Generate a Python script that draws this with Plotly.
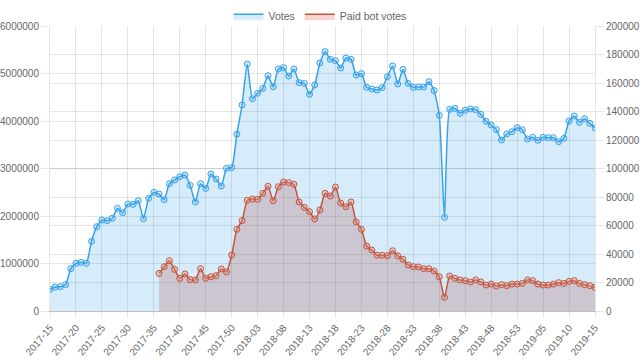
import plotly.graph_objects as go

# Week categories: 2017-15 .. 2017-52, 2018-01 .. 2018-53, 2019-01 .. 2019-15
weeks = ([f"2017-{w:02d}" for w in range(15, 53)] +
         [f"2018-{w:02d}" for w in range(1, 54)] +
         [f"2019-{w:02d}" for w in range(1, 16)])

votes = [457000, 505000, 512000, 554000, 891000, 1004000, 1025000, 1004000, 1467000, 1775000,
         1916000, 1902000, 1951000, 2162000, 2070000, 2253000, 2246000, 2322000, 1943000, 2372000,
         2498000, 2463000, 2343000, 2680000, 2758000, 2828000, 2863000, 2646000, 2295000, 2680000,
         2580000, 2884000, 2779000, 2632000, 3004000, 3018000, 3722000, 4337000, 5200000, 4470000,
         4583000, 4688000, 4955000, 4723000, 5095000, 5123000, 4947000, 5095000, 4807000, 4793000,
         4562000, 4758000, 5221000, 5460000, 5298000, 5270000, 5116000, 5326000, 5298000, 4968000,
         4996000, 4709000, 4674000, 4653000, 4702000, 4933000, 5158000, 4779000, 5088000, 4793000,
         4709000, 4716000, 4716000, 4828000, 4639000, 4119000, 1973000, 4246000, 4267000, 4162000,
         4225000, 4253000, 4239000, 4141000, 3994000, 3916000, 3817000, 3600000, 3726000, 3775000,
         3860000, 3817000, 3621000, 3656000, 3593000, 3656000, 3649000, 3649000, 3565000, 3635000,
         4000000, 4105000, 3972000, 4049000, 3951000, 3853000]

paid = [None] * 21 + [
    26400, 31100, 35300, 29200, 22900, 26000, 22000, 21800, 29700, 23000,
    24100, 24800, 29500, 27400, 39300, 57300, 63400, 77700, 78600, 78400,
    82600, 87500, 77400, 87200, 90500, 90100, 88900, 76500, 72700, 69700,
    64600, 70900, 82600, 80700, 87000, 75800, 73200, 76500, 62500, 57300,
    45600, 42800, 39100, 39100, 38800, 42300, 38700, 36300, 32300, 31100,
    30900, 29700, 29700, 28100, 24100, 9600, 24600, 22900, 21800, 21300,
    20400, 21800, 20400, 18200, 18900, 17500, 18500, 17800, 18900, 18900,
    19400, 21800, 21300, 18900, 18200, 18200, 18900, 19900, 19400, 20800,
    21300, 19400, 18500, 17800, 16600]

blue = "rgb(54,162,235)"
blue_fill = "rgba(54,162,235,0.2)"
red = "rgb(196,84,62)"
red_fill = "rgba(165,62,50,0.22)"
grid = "rgba(0,0,0,0.1)"
font_c = "#666"

fig = go.Figure()
fig.add_trace(go.Scatter(
    x=weeks, y=votes, name="Votes", mode="lines+markers", fill="tozeroy",
    fillcolor=blue_fill, line=dict(color=blue, width=1.5, shape="spline", smoothing=0.5),
    marker=dict(size=6, color="rgba(54,162,235,0.2)", line=dict(color=blue, width=1)),
    showlegend=False, yaxis="y"))
fig.add_trace(go.Scatter(
    x=weeks, y=paid, name="Paid bot votes", mode="lines+markers", fill="tozeroy",
    fillcolor=red_fill, line=dict(color=red, width=1.5, shape="spline", smoothing=0.5),
    marker=dict(size=6, color="rgba(230,140,120,0.3)", line=dict(color=red, width=1)),
    showlegend=False, yaxis="y2"))

# legend entries (box style)
fig.add_trace(go.Scatter(x=[None], y=[None], name="Votes", mode="lines", fill="toself",
                         fillcolor=blue_fill, line=dict(color=blue, width=1.5)))
fig.add_trace(go.Scatter(x=[None], y=[None], name="Paid bot votes", mode="lines", fill="toself",
                         fillcolor="rgba(230,120,95,0.3)", line=dict(color=red, width=1.5)))

tick_idx = list(range(0, len(weeks), 5))
fs = 10
fig.update_layout(
    width=640, height=361,
    margin=dict(l=50, r=45, t=26, b=50, autoexpand=False),
    paper_bgcolor="white", plot_bgcolor="white",
    font=dict(family="Liberation Sans, Arial, sans-serif", size=fs, color=font_c),
    legend=dict(orientation="h", x=0.5, xanchor="center", xref="container",
                y=0.995, yanchor="top", yref="container",
                font=dict(size=10.5, color=font_c), itemwidth=30, bgcolor="rgba(0,0,0,0)"),
    xaxis=dict(type="category", range=[0, len(weeks) - 1], tickmode="array",
               tickvals=[weeks[i] for i in tick_idx], ticktext=[weeks[i] for i in tick_idx],
               tickangle=-50, showgrid=True, gridcolor=grid, ticks="outside", ticklen=6,
               tickcolor=grid, showline=True, linecolor="rgba(0,0,0,0.25)", automargin=False,
               tickfont=dict(size=fs, color=font_c), zeroline=False),
    yaxis=dict(range=[0, 6000000], dtick=1000000, tickformat="d", showgrid=True,
               gridcolor=grid, ticks="outside", ticklen=8, tickcolor=grid, automargin=False,
               showline=True, linecolor=grid, zeroline=False,
               tickfont=dict(size=fs, color=font_c)),
    yaxis2=dict(range=[0, 200000], dtick=20000, tickformat="d", overlaying="y", side="right",
                showgrid=True, gridcolor=grid, ticks="outside", ticklen=8, tickcolor=grid,
                showline=True, linecolor=grid, zeroline=False, automargin=False,
                tickfont=dict(size=fs, color=font_c)),
)

# remove the default page margin so the 640x361 figure fills the window exactly
fig.write_html("out.html", config={"displayModeBar": False},
               post_script="document.body.style.margin='0';")
